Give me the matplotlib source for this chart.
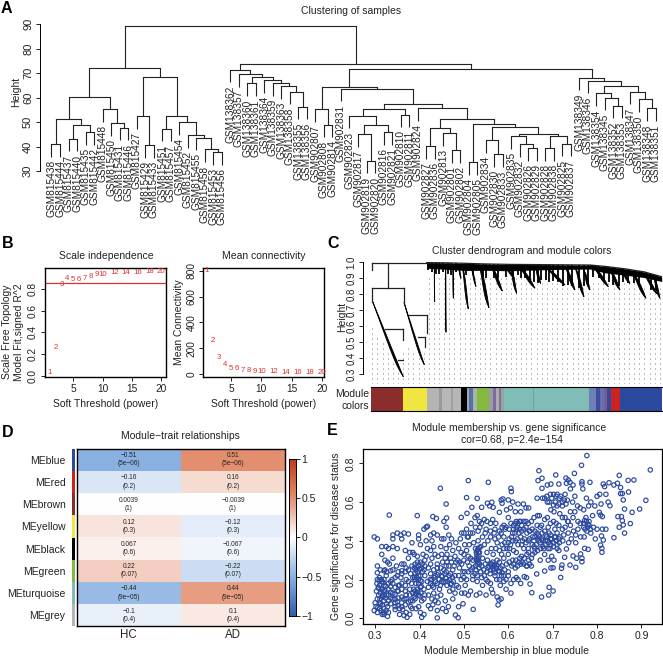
import numpy as np
import matplotlib
matplotlib.use("Agg")
import matplotlib.pyplot as plt
from matplotlib.colors import LinearSegmentedColormap

plt.rcParams['font.family'] = ['Liberation Sans', 'DejaVu Sans']

W, H = 663, 658

# ---------- A: sample tree, (merge height, left, right) ----------
left_a = (51.4, (41.0, "815438", "815444"), (48.9, (43.2, "815437", "815440"), (45.8, "815435", "815442")))
left_b = (55.2, "815448", (49.5, "815450", (47.7, "815431", "815446")))
left_c = (52.3, "815427", (40.6, "815429", "815433"))
left_d = (52.4, (47.3, "815451", "815457"), (50.1, "815454", (44.7, "815452", (43.7, "815455", (38.8, "815458", (37.8, "815453", "815456"))))))
left_tree = (72.2, (60.3, left_a, left_b), (68.6, left_c, left_d))
mid_tree = (71.5, "138362", (69.7, "138357", (68.5, (65.8, "138360", "138361"), (67.3, "138364", (66.0, "138359", (64.8, "138363", (62.4, "138358", (56.3, "138355", "138356"))))))))
tree_902a = (55.3, (52.6, "902823", (48.9, (45.2, "902817", (34.2, "902819", "902820")), (46.0, "902816", "902821"))), (53.1, "902810", "902811"))
tree_902b = (47.5, (40.3, "902827", "902836"), (45.6, "902813", (38.4, "902801", "902802")))
tree_902c = (47.8, (42.5, "902834", (36.8, "902830", "902833")), (45.0, (44.2, "902835", (40.9, "902832", (39.3, "902826", "902829"))), (44.2, (39.3, "902828", "902838"), (41.2, "902825", "902837"))))
tree_902 = (64.4, (55.4, "902807", (49.0, "902808", "902814")), (63.7, "902831", (57.5, tree_902a, (55.7, "902824", (51.1, tree_902b, (49.3, (33.7, "902804", "902805"), tree_902c))))))
tree_138 = (68.2, "138349", (66.9, "138346", (64.8, (61.7, "138354", (60.0, "138345", (56.7, "138352", "138353"))), (62.4, "138347", (59.3, "138350", (55.6, "138348", "138351"))))))
sample_tree = (89.2, left_tree, (73.7, mid_tree, (71.9, tree_902, tree_138)))

# ---------- B ----------
powers = [1, 2, 3, 4, 5, 6, 7, 8, 9, 10, 12, 14, 16, 18, 20]
fit_r2 = [0.03, 0.26, 0.84, 0.892, 0.886, 0.886, 0.895, 0.917, 0.935, 0.935, 0.948, 0.95, 0.95, 0.96, 0.957]
mean_k = [805, 258, 126, 72, 46, 39, 31, 25, 22, 20, 17, 14, 13, 11, 10]

# ---------- C: gene dendrogram, x in gene order, y in height ----------
module_widths = [97, 70, 38, 7, 28, 5, 25, 19, 6, 10, 12, 37, 12, 8, 10, 6, 9, 88, 3, 164, 20, 12, 14, 8, 12, 28, 124]
module_colors = ['#8B2D2D', '#EFE642', '#B4B4B4', '#9A9A9A', '#B8B8B8', '#A0A0A0', '#B6B6B6', '#000000', '#A6A6A6', '#4F72AE', '#A9B5A0',
                 '#85B83F', '#9C9CA8', '#7C6C9C', '#ABABB0', '#8A7090', '#8FA6A8', '#7FBDB6', '#6A9FBE', '#7FBDB6', '#6E80B6', '#3D4CA0',
                 '#6672AE', '#7A5C90', '#2F4A9E', '#CC2320', '#2B4A9E']
tree_links_u = [(2, 168), (2, 2), (51, 51), (4, 99), (4, 4), (99, 99), (115, 167), (167, 167), (140, 162), (162, 162), (42, 97), (97, 97), (82, 97)]
tree_links_h = [(0.993, 0.993), (0.993, 0.952), (0.993, 0.837), (0.837, 0.837), (0.837, 0.75), (0.837, 0.74), (0.671, 0.671), (0.671, 0.556), (0.535, 0.535), (0.535, 0.473), (0.583, 0.583), (0.583, 0.514), (0.39, 0.39)]
droop_u0 = [4, 99, 190, 224, 246, 262, 272, 297, 322, 354, 394, 417, 437, 492, 512, 582, 612, 637, 657, 712, 747, 777, 812, 847]
droop_h0 = [0.76, 0.75, 0.98, 0.98, 0.98, 0.985, 0.985, 0.985, 0.985, 0.985, 0.98, 0.975, 0.975, 0.975, 0.97, 0.965, 0.96, 0.95, 0.98, 0.96, 0.955, 0.94, 0.93, 0.91]
droop_u1 = [97, 160, 191, 225, 247, 270, 292, 315, 354, 394, 430, 437, 492, 509, 582, 612, 639, 657, 712, 747, 777, 825, 857, 867]
droop_h1 = [0.285, 0.36, 0.754, 0.562, 0.775, 0.90, 0.708, 0.848, 0.716, 0.82, 0.90, 0.806, 0.838, 0.868, 0.858, 0.827, 0.785, 0.827, 0.848, 0.827, 0.868, 0.775, 0.805, 0.775]
droop_wide = [9, 7, 1, 1, 1, 4, 7, 5, 11, 11, 8, 8, 13, 8, 14, 11, 10, 9, 13, 11, 10, 12, 11, 9]
tooth_u = [172, 182, 195, 205, 215, 232, 240, 255, 284, 305, 335, 345, 368, 380, 405, 425, 440, 450, 462, 478, 490, 500, 510, 525, 535, 545, 560, 575, 590, 603, 625, 640, 650, 667, 685, 700, 715, 725, 745, 755, 770, 790, 805, 840, 855]
tooth_h = [0.95, 0.94, 0.93, 0.93, 0.94, 0.93, 0.92, 0.94, 0.92, 0.92, 0.91, 0.90, 0.90, 0.90, 0.91, 0.90, 0.92, 0.90, 0.90, 0.89, 0.875, 0.87, 0.89, 0.89, 0.88, 0.885, 0.88, 0.85, 0.86, 0.85, 0.84, 0.85, 0.86, 0.91, 0.90, 0.88, 0.88, 0.86, 0.85, 0.88, 0.87, 0.87, 0.85, 0.83, 0.83]
top_band_u = [167, 220, 280, 340, 417, 540, 657, 700, 760, 820, 872]
top_band_h = [0.998, 0.997, 0.994, 0.99, 0.987, 0.985, 0.983, 0.975, 0.96, 0.94, 0.91]
band_depth = [0.035, 0.04, 0.045, 0.04, 0.04, 0.03, 0.025, 0.04, 0.04, 0.035, 0.03]
guide_u = [0, 90, 100, 150, 165, 171, 872]
guide_h = [0.62, 0.30, 0.52, 0.38, 0.52, 0.93, 0.86]

# ---------- D ----------
trait_names = ["HC", "AD"]
me_names = ["MEblue", "MEred", "MEbrown", "MEyellow", "MEblack", "MEgreen", "MEturquoise", "MEgrey"]
me_colors = ['#2B4A9E', '#CC2320', '#8B2D2D', '#EFE642', '#000000', '#85B83F', '#7FBDB6', '#B4B4B4']
hc_cor = [-0.51, -0.16, 0.0039, 0.12, 0.067, 0.22, -0.44, -0.1]
ad_cor = [0.51, 0.16, -0.0039, -0.12, -0.067, -0.22, 0.44, 0.1]
cor_pvalues = ["5e−06", "0.2", "1", "0.3", "0.6", "0.07", "9e−05", "0.4"]

# ---------- E: module membership, gene significance ----------
mm_gs_points = [
    (.298, .04), (.30, .08), (.298, .42), (.305, .41), (.305, .27), (.305, .235), (.305, .2), (.307, .16), (.303, .14), (.305, .1), (.302, .06), (.305, .03),
    (.31, .05), (.31, .08), (.312, .13), (.31, .17), (.312, .25), (.315, .37), (.315, .33), (.315, .19), (.315, .15), (.316, .11), (.316, .07), (.316, .02),
    (.32, .02), (.32, .05), (.32, .09), (.32, .12), (.32, .17), (.32, .2), (.32, .245), (.322, .25), (.325, .37), (.33, .36), (.322, .30), (.328, .29),
    (.332, .28), (.325, .22), (.33, .18), (.33, .15), (.325, .12), (.33, .09), (.328, .06), (.325, .04), (.33, .03), (.328, .01), (.335, .245), (.335, .19),
    (.335, .165), (.335, .135), (.335, .105), (.335, .075), (.332, .533), (.34, .43), (.34, .41), (.34, .37), (.34, .31), (.34, .25), (.345, .21), (.34, .18),
    (.345, .16), (.34, .13), (.345, .1), (.345, .06), (.345, .045), (.35, .44), (.35, .36), (.348, .27), (.352, .24), (.352, .17), (.352, .14), (.35, .085),
    (.352, .065), (.355, .02), (.355, .05), (.358, .43), (.36, .41), (.36, .28), (.36, .245), (.358, .21), (.36, .15), (.36, .11), (.36, .08), (.362, .045),
    (.365, .015), (.365, .44), (.368, .35), (.365, .28), (.368, .24), (.37, .2), (.368, .14), (.37, .1), (.368, .07), (.37, .03), (.375, .435), (.378, .34),
    (.375, .31), (.375, .25), (.378, .15), (.378, .12), (.38, .06), (.378, .02), (.372, .005), (.383, .39), (.385, .34), (.383, .27), (.385, .21), (.385, .13),
    (.385, .09), (.383, .05), (.388, .33), (.39, .28), (.392, .25), (.39, .2), (.39, .14), (.39, .1), (.392, .05), (.395, .53), (.398, .43), (.398, .41),
    (.395, .32), (.398, .27), (.395, .24), (.398, .18), (.395, .15), (.398, .12), (.398, .06), (.402, .38), (.402, .29), (.405, .26), (.402, .22), (.405, .19),
    (.403, .13), (.405, .09), (.402, .03), (.405, .005), (.41, .46), (.412, .30), (.41, .25), (.412, .22), (.41, .15), (.412, .12), (.41, .02), (.415, .47),
    (.418, .475), (.415, .4), (.418, .36), (.415, .32), (.42, .26), (.418, .19), (.42, .16), (.42, .065), (.425, .43), (.428, .4), (.425, .35), (.428, .31),
    (.425, .28), (.428, .2), (.425, .18), (.428, .1), (.425, .05), (.43, .525), (.432, .44), (.432, .37), (.435, .33), (.432, .25), (.435, .22), (.432, .13),
    (.435, .09), (.44, .002), (.44, .04), (.438, .516), (.44, .43), (.44, .28), (.442, .235), (.44, .18), (.445, .15), (.442, .08), (.447, .671), (.45, .41),
    (.448, .37), (.45, .33), (.448, .26), (.45, .22), (.45, .19), (.448, .12), (.452, .05), (.455, .5), (.455, .41), (.458, .31), (.455, .25), (.458, .19),
    (.458, .09), (.46, .59), (.461, .518), (.46, .47), (.46, .36), (.462, .33), (.46, .24), (.462, .17), (.46, .035), (.466, .43), (.468, .38), (.466, .27),
    (.468, .2), (.468, .14), (.465, .06), (.472, .41), (.475, .35), (.472, .29), (.475, .25), (.472, .18), (.475, .15), (.475, .1), (.481, .017), (.482, .39),
    (.48, .32), (.482, .29), (.484, .17), (.48, .13), (.487, .003), (.488, .36), (.486, .3), (.488, .22), (.488, .16), (.488, .06), (.494, .521), (.492, .41),
    (.495, .44), (.494, .34), (.495, .28), (.494, .2), (.495, .13), (.498, .075), (.5, .44), (.502, .38), (.5, .33), (.5, .3), (.502, .24), (.503, .17),
    (.502, .13), (.506, .623), (.507, .542), (.506, .46), (.508, .42), (.506, .35), (.508, .29), (.506, .2), (.51, .711), (.51, .42), (.512, .38), (.512, .27),
    (.51, .12), (.516, .49), (.515, .44), (.515, .31), (.516, .25), (.515, .14), (.518, .573), (.52, .44), (.522, .39), (.52, .3), (.52, .2), (.521, .046),
    (.525, .52), (.526, .47), (.526, .36), (.528, .34), (.526, .27), (.525, .23), (.528, .12), (.53, .619), (.53, .53), (.532, .45), (.532, .4), (.532, .31),
    (.533, .29), (.53, .19), (.535, .5), (.536, .47), (.538, .37), (.535, .34), (.538, .24), (.536, .13), (.54, .573), (.54, .49), (.542, .42), (.542, .31),
    (.54, .27), (.542, .17), (.546, .51), (.548, .44), (.546, .38), (.548, .28), (.546, .22), (.55, .12), (.553, .594), (.552, .5), (.555, .702), (.554, .4),
    (.552, .34), (.555, .26), (.554, .19), (.558, .58), (.56, .49), (.56, .42), (.562, .36), (.56, .25), (.562, .15), (.563, .599), (.566, .573), (.565, .51),
    (.568, .44), (.566, .33), (.568, .27), (.565, .13), (.572, .49), (.57, .41), (.572, .36), (.572, .26), (.574, .2), (.577, .069), (.579, .094), (.575, .11),
    (.58, .547), (.578, .42), (.58, .35), (.58, .29), (.58, .24), (.582, .17), (.584, .61), (.586, .594), (.586, .47), (.584, .44), (.586, .38), (.586, .27),
    (.585, .22), (.584, .1), (.588, .616), (.59, .48), (.59, .42), (.592, .39), (.59, .31), (.592, .25), (.59, .19), (.596, .56), (.595, .47), (.597, .36),
    (.596, .28), (.595, .2), (.595, .15), (.6, .611), (.6, .52), (.602, .46), (.602, .41), (.6, .33), (.602, .29), (.6, .22), (.606, .671), (.607, .654),
    (.605, .57), (.606, .49), (.607, .42), (.605, .38), (.608, .27), (.606, .18), (.606, .13), (.61, .6), (.612, .48), (.61, .44), (.612, .35), (.61, .3),
    (.612, .2), (.616, .55), (.618, .5), (.618, .46), (.616, .4), (.618, .34), (.616, .26), (.618, .21), (.622, .59), (.622, .49), (.624, .44), (.622, .38),
    (.624, .29), (.622, .2), (.628, .55), (.628, .5), (.63, .45), (.628, .42), (.63, .32), (.628, .28), (.628, .18), (.636, .215), (.634, .59), (.635, .46),
    (.636, .41), (.635, .36), (.635, .28), (.641, .21), (.64, .57), (.64, .5), (.642, .44), (.64, .39), (.642, .33), (.642, .27), (.649, .177), (.646, .57),
    (.648, .45), (.648, .41), (.646, .34), (.648, .28), (.653, .132), (.652, .5), (.654, .46), (.654, .38), (.652, .31), (.652, .27), (.658, .52), (.66, .45),
    (.66, .42), (.658, .37), (.66, .34), (.664, .229), (.667, .711), (.665, .62), (.666, .53), (.665, .48), (.666, .41), (.666, .35), (.669, .762), (.67, .53),
    (.672, .47), (.67, .42), (.672, .39), (.672, .3), (.676, .723), (.676, .671), (.677, .62), (.675, .48), (.676, .44), (.678, .37), (.675, .11), (.682, .62),
    (.682, .51), (.682, .45), (.684, .4), (.682, .33), (.682, .244), (.688, .688), (.688, .6), (.688, .52), (.69, .47), (.688, .4), (.69, .36), (.69, .3),
    (.692, .16), (.691, .12), (.696, .693), (.695, .64), (.696, .56), (.695, .49), (.696, .43), (.696, .38), (.698, .32), (.696, .26), (.701, .261), (.701, .141),
    (.702, .64), (.703, .55), (.702, .5), (.704, .42), (.702, .37), (.703, .3), (.707, .74), (.708, .63), (.71, .58), (.708, .49), (.71, .44), (.708, .4),
    (.71, .36), (.714, .693), (.715, .62), (.716, .54), (.714, .48), (.716, .42), (.714, .35), (.718, .211), (.72, .258), (.721, .275), (.722, .6), (.722, .52),
    (.722, .46), (.723, .4), (.727, .315), (.728, .64), (.728, .52), (.728, .47), (.73, .724), (.731, .697), (.731, .358), (.733, .61), (.734, .5), (.735, .714),
    (.735, .44), (.736, .39), (.739, .702), (.739, .275), (.74, .668), (.74, .55), (.74, .48), (.742, .41), (.746, .688), (.746, .322), (.745, .6), (.746, .52),
    (.747, .45), (.749, .748), (.75, .63), (.75, .55), (.752, .43), (.752, .39), (.752, .263), (.754, .31), (.756, .58), (.757, .5), (.757, .46), (.762, .57),
    (.762, .49), (.763, .332), (.763, .42), (.765, .79), (.766, .705), (.766, .693), (.766, .31), (.766, .292), (.768, .668), (.77, .56), (.77, .47), (.771, .42),
    (.772, .361), (.775, .52), (.777, .84), (.776, .62), (.777, .45), (.78, .356), (.781, .58), (.782, .48), (.784, .702), (.786, .6), (.786, .44), (.79, .53),
    (.792, .47), (.795, .58), (.796, .41), (.8, .63), (.8, .46), (.805, .547), (.806, .64), (.808, .533), (.808, .378), (.809, .59), (.81, .425), (.811, .361),
    (.811, .341), (.812, .525), (.812, .46), (.814, .693), (.814, .404), (.817, .68), (.82, .64), (.82, .46), (.825, .6), (.827, .7), (.829, .581), (.838, .688),
    (.838, .416), (.846, .697), (.847, .525), (.85, .738), (.85, .47), (.853, .675), (.853, .644), (.855, .525), (.857, .644), (.857, .504), (.859, .611), (.859, .482),
    (.862, .564), (.862, .44), (.87, .712), (.871, .652), (.875, .489), (.879, .547), (.883, .714), (.896, .564), (.91, .609), (.92, .766),
    (.31, .21), (.318, .14), (.326, .24), (.338, .2), (.345, .125), (.352, .105), (.36, .18), (.368, .17), (.375, .085), (.382, .18), (.388, .11), (.395, .29),
    (.402, .16), (.408, .33), (.412, .27), (.425, .23), (.432, .16), (.442, .32), (.452, .29), (.462, .29), (.47, .23), (.478, .27), (.49, .26), (.498, .24),
    (.51, .32), (.52, .26), (.528, .3), (.535, .28), (.545, .25), (.553, .3), (.565, .29), (.575, .3), (.585, .33), (.593, .46), (.603, .36), (.615, .44),
    (.625, .46), (.632, .4), (.645, .4), (.655, .42), (.665, .44), (.675, .41), (.685, .43), (.695, .41), (.705, .46), (.715, .39), (.725, .43), (.735, .5),
]
# denser patches read separately
mm_gs_dense = [
    (.304, .18), (.308, .12), (.311, .1), (.313, .04), (.318, .185), (.308, .155), (.312, .075), (.322, .145), (.306, .055), (.324, .165), (.314, .2), (.319, .03), (.326, .075), (.317, .115), (.309, .195), (.323, .105),
    (.388, .26), (.39, .235), (.392, .18), (.394, .21), (.396, .135), (.398, .22), (.4, .255), (.402, .195), (.404, .165), (.406, .28), (.387, .15), (.389, .21), (.391, .125), (.393, .265), (.397, .2), (.401, .115), (.407, .24),
    (.424, .2), (.429, .17), (.433, .21), (.436, .19), (.44, .225), (.444, .2), (.447, .17), (.451, .215), (.454, .185), (.457, .23), (.46, .205), (.463, .19), (.467, .22), (.47, .175), (.474, .21), (.476, .19),
    (.528, .31), (.53, .35), (.529, .33), (.532, .36), (.533, .34), (.534, .32), (.531, .3), (.535, .365), (.53, .28), (.527, .25), (.534, .26),
    (.552, .24), (.556, .27), (.559, .23), (.563, .28), (.567, .25), (.57, .235), (.574, .27), (.578, .245), (.582, .26), (.586, .235), (.56, .28), (.569, .275),
    (.658, .4), (.663, .38), (.668, .43), (.673, .36), (.678, .4), (.683, .38), (.686, .42), (.691, .39), (.694, .36), (.698, .41), (.702, .39), (.706, .42), (.71, .38), (.714, .41), (.66, .36), (.669, .4), (.68, .36), (.692, .44),
    (.687, .63), (.692, .6), (.698, .62), (.702, .585), (.706, .6), (.71, .64), (.714, .59), (.718, .63), (.722, .58), (.726, .61), (.73, .59),
    (.77, .49), (.773, .46), (.776, .5), (.779, .47), (.782, .5), (.785, .46), (.772, .505), (.78, .485),
    (.612, .46), (.616, .49), (.62, .47), (.625, .5), (.63, .48), (.635, .5), (.64, .47), (.645, .49), (.648, .45),
    (.612, .28), (.617, .3), (.621, .27), (.626, .31), (.631, .29), (.636, .31), (.641, .27), (.646, .3),
    (.55, .46), (.56, .45), (.57, .46), (.575, .39), (.58, .45), (.59, .36), (.6, .39), (.61, .4), (.62, .41), (.63, .38), (.645, .36), (.655, .33),
    (.44, .26), (.46, .27), (.47, .31), (.48, .22), (.49, .29), (.5, .21), (.51, .24), (.52, .22), (.53, .22), (.54, .21), (.55, .2), (.56, .18), (.57, .22), (.58, .2), (.59, .22), (.6, .24),
    (.34, .1), (.35, .14), (.36, .06), (.37, .12), (.38, .09), (.33, .12), (.345, .08), (.355, .17), (.365, .1), (.375, .19), (.35, .22), (.36, .23), (.37, .26), (.38, .23), (.41, .1), (.42, .12), (.43, .07), (.44, .11),
]

colormap = LinearSegmentedColormap.from_list("bwr_wgcna", ['#2E5FAC', '#8BB2E2', '#FFFFFF', '#E39071', '#C23A1E'])


def px_axes(x0, y0, x1, y1):
    return fig.add_axes([x0 / W, 1 - y1 / H, (x1 - x0) / W, (y1 - y0) / H])


def px_text(x, y, s, **kw):
    return fig.text(x / W, 1 - y / H, s, **kw)


def draw_node(ax, node, order):
    # returns x of the node, leaves are numbered left to right
    if isinstance(node, str):
        x = len(order)
        order.append(node)
        return x, None
    height, left, right = node
    xl, hl = draw_node(ax, left, order)
    xr, hr = draw_node(ax, right, order)
    for x_child, h_child, child in ((xl, hl, left), (xr, hr, right)):
        if h_child is None:
            h_child = height - 5.2
            ax.text(x_child, h_child - 1.3, "GSM" + child, rotation=90, ha='center', va='top', fontsize=7.3, color='#222222', clip_on=False)
        ax.plot([x_child, x_child], [height, h_child], color='#222222', lw=0.8, solid_capstyle='butt')
    ax.plot([xl, xr], [height, height], color='#222222', lw=0.8, solid_capstyle='projecting')
    return (xl + xr) / 2, height


def r_axis(ax, bounds):
    for side in ('top', 'right', 'bottom'):
        ax.spines[side].set_visible(False)
    ax.spines['left'].set_bounds(*bounds)
    ax.spines['left'].set_linewidth(0.7)
    ax.set_xticks([])


def rotate_y_ticks(ax):
    for label in ax.get_yticklabels():
        label.set_rotation(90)
        label.set_va('center')


fig = plt.figure(figsize=(W / 100, H / 100), dpi=100)

# panel letters
for letter, x, y in (("A", 1, 13), ("B", 2, 248), ("C", 327, 248), ("D", 2, 437), ("E", 327, 435)):
    px_text(x, y, letter, fontsize=11.5, fontweight='bold', ha='left', va='baseline')

# A
ax = px_axes(40, 24, 660, 225)
ax.set_xlim(-1.35, 71.47)
ax.set_ylim(30 - 54 / 2.445, 90 + 0.3 / 2.445)
order = []
draw_node(ax, sample_tree, order)
r_axis(ax, (30, 90))
ax.set_yticks(range(30, 100, 10))
ax.tick_params(axis='y', labelsize=8, length=3, width=0.7, pad=2, colors='#222222')
rotate_y_ticks(ax)
ax.patch.set_alpha(0)
px_text(16, 92, "Height", rotation=90, ha='center', va='center', fontsize=7.5, color='#222222')
px_text(351, 11, "Clustering of samples", ha='center', va='center', fontsize=7.5, color='#222222')

# B left
ax = px_axes(45, 267.7, 166, 377)
ax.set_xlim(0.18, 20.8)
ax.set_ylim(-0.012, 0.994)
ax.axhline(0.85, color='#E03030', lw=0.9)
for p, v in zip(powers, fit_r2):
    ax.text(p, v, str(p), color='#E03030', fontsize=5.6, ha='center', va='center')
ax.set_xticks([5, 10, 15, 20])
ax.set_yticks([0, 0.2, 0.4, 0.6, 0.8], labels=["0.0", "0.2", "0.4", "0.6", "0.8"])
ax.tick_params(labelsize=7.3, length=3, width=0.7, pad=2, colors='#222222')
rotate_y_ticks(ax)
for s in ax.spines.values():
    s.set_linewidth(1.0)
px_text(106, 256, "Scale independence", ha='center', va='center', fontsize=7.5, color='#222222')
px_text(106, 404, "Soft Threshold (power)", ha='center', va='center', fontsize=7.5, color='#222222')
px_text(7, 332, "Scale Free Topology", rotation=90, ha='center', va='center', fontsize=7.5, color='#222222')
px_text(19, 332, "Model Fit,signed R^2", rotation=90, ha='center', va='center', fontsize=7.5, color='#222222')

# B right
ax = px_axes(203.3, 267.7, 324, 377)
ax.set_xlim(0.42, 20.37)
ax.set_ylim(-23, 824)
for p, v in zip(powers, mean_k):
    ax.text(p, v, str(p), color='#E03030', fontsize=5.6, ha='center', va='center')
ax.set_xticks([5, 10, 15, 20])
ax.set_yticks([0, 200, 400, 600, 800])
ax.tick_params(labelsize=7.3, length=3, width=0.7, pad=2, colors='#222222')
rotate_y_ticks(ax)
for s in ax.spines.values():
    s.set_linewidth(1.0)
px_text(264, 256, "Mean connectivity", ha='center', va='center', fontsize=7.5, color='#222222')
px_text(264, 404, "Soft Threshold (power)", ha='center', va='center', fontsize=7.5, color='#222222')
px_text(179, 322, "Mean Connectivity", rotation=90, ha='center', va='center', fontsize=7.5, color='#222222')

# C dendrogram
ax = px_axes(363, 260, 662, 384)
ax.set_xlim(-24, 873)
ax.set_ylim(1 - (384 - 262.3) / 160, 1 + 2.3 / 160)
guide_x = np.arange(4, 872, 15.4)
guide_top = np.interp(guide_x, guide_u, guide_h)
ax.vlines(guide_x, ax.get_ylim()[0], guide_top, color='#777777', lw=0.7, linestyles=[(0, (1, 4.14))], zorder=1)
for u, h in zip(tree_links_u, tree_links_h):
    ax.plot(u, h, color='#222222', lw=0.9, zorder=3)
ax.plot(top_band_u, top_band_h, color='#222222', lw=0.9, zorder=3)
ax.fill_between(top_band_u, top_band_h, np.array(top_band_h) - np.array(band_depth), color='black', lw=0, zorder=2)
ax.vlines(tooth_u, tooth_h, np.interp(tooth_u, top_band_u, top_band_h), color='black', lw=1.3, zorder=2)
t = np.linspace(0, 1, 40)
for u0, h0, u1, h1, wide in zip(droop_u0, droop_h0, droop_u1, droop_h1, droop_wide):
    steep = 1.0 if h1 < 0.5 else 1.7
    xs = u0 + (u1 - u0) * t
    hs = h0 - (h0 - h1) * t ** steep
    spread = wide * t ** 0.9 * (1 - t ** 7)
    ax.fill(np.r_[xs, (xs - spread)[::-1]], np.r_[hs, hs[::-1]], color='black', lw=0.6, zorder=2)
for side in ('top', 'right', 'bottom'):
    ax.spines[side].set_visible(False)
ax.spines['left'].set_bounds(0.3, 1.0)
ax.spines['left'].set_linewidth(0.7)
ax.set_xticks([])
ax.set_yticks([0.3, 0.4, 0.5, 0.6, 0.7, 0.8, 0.9, 1.0], labels=["0.3", "0.4", "0.5", "0.6", "0.7", "0.8", "0.9", "1.0"])
ax.tick_params(axis='y', labelsize=7, length=3, width=0.7, pad=1.5, colors='#222222')
rotate_y_ticks(ax)
ax.patch.set_alpha(0)
px_text(342, 317, "Height", rotation=90, ha='center', va='center', fontsize=7.5, color='#222222')
px_text(522, 251, "Cluster dendrogram and module colors", ha='center', va='center', fontsize=7.5, color='#222222')

# C module bar
ax = px_axes(371, 387.3, 661.7, 410.7)
ax.barh(0, module_widths, left=np.cumsum([0] + module_widths[:-1]), height=1, color=module_colors, lw=0)
ax.set_xlim(0, sum(module_widths))
ax.set_ylim(-0.5, 0.5)
ax.set_xticks([])
ax.set_yticks([])
for side in ('left', 'right'):
    ax.spines[side].set_visible(False)
px_text(369, 394, "Module", ha='right', va='center', fontsize=7.5, color='#222222')
px_text(369, 406, "colors", ha='right', va='center', fontsize=7.5, color='#222222')

# D heatmap
ax = px_axes(76.7, 448.7, 285, 626.3)
cor_matrix = np.array([hc_cor, ad_cor]).T
ax.pcolormesh(cor_matrix, cmap=colormap, vmin=-1, vmax=1)
ax.set_ylim(len(me_names), 0)
for i, p in enumerate(cor_pvalues):
    for j in range(2):
        ax.text(j + 0.5, i + 0.5, f"{cor_matrix[i, j]:g}".replace("-", "−") + f"\n({p})", ha='center', va='center',
                fontsize=4.7, linespacing=1.25, color='#222222')
ax.set_xticks([0.5, 1.5], labels=trait_names)
ax.set_yticks(np.arange(8) + 0.5, labels=me_names)
ax.tick_params(axis='x', length=0, labelsize=8.3, pad=2, colors='#222222')
ax.tick_params(axis='y', length=0, labelsize=7.5, pad=8, colors='#222222')
for s in ax.spines.values():
    s.set_linewidth(1.0)
px_text(180, 436, "Module−trait relationships", ha='center', va='center', fontsize=7.5, color='#222222')

# D module strip
ax = px_axes(71.7, 448.7, 75.3, 626.3)
ax.barh(np.arange(8), 1, height=1, color=me_colors, lw=0)
ax.set_ylim(7.5, -0.5)
ax.set_xlim(0, 1)
ax.axis('off')

# D colour key
ax = px_axes(289.3, 459, 296, 615.7)
gradient = np.linspace(-1, 1, 200).reshape(-1, 1)
ax.imshow(gradient, cmap=colormap, aspect='auto', origin='lower', extent=[0, 1, -1, 1], vmin=-1, vmax=1)
ax.set_xticks([])
ax.yaxis.tick_right()
ax.set_yticks([-1, -0.5, 0, 0.5, 1], labels=["−1", "−0.5", "0", "0.5", "1"])
ax.tick_params(axis='y', labelsize=7.5, length=3, width=0.7, pad=1, colors='#222222')
for s in ax.spines.values():
    s.set_linewidth(0.7)

# E
ax = px_axes(362.7, 449, 661.7, 624.3)
points = np.array(mm_gs_points + mm_gs_dense)
ax.scatter(points[:, 0], points[:, 1], s=10, facecolors='none', edgecolors='#2C4A9E', linewidths=0.85)
ax.set_xlim(0.272, 0.9457)
ax.set_ylim(-0.031, 0.874)
ax.set_xticks([0.3, 0.4, 0.5, 0.6, 0.7, 0.8, 0.9])
ax.set_yticks([0, 0.2, 0.4, 0.6, 0.8], labels=["0.0", "0.2", "0.4", "0.6", "0.8"])
ax.tick_params(labelsize=7.5, length=3, width=0.7, pad=2, colors='#222222')
rotate_y_ticks(ax)
for s in ax.spines.values():
    s.set_linewidth(0.9)
px_text(509, 428, "Module membership vs. gene significance", ha='center', va='center', fontsize=7.5, color='#222222')
px_text(512, 440, "cor=0.68, p=2.4e−154", ha='center', va='center', fontsize=7.5, color='#222222')
px_text(507, 651, "Module Membership in blue module", ha='center', va='center', fontsize=7.5, color='#222222')
px_text(336, 536, "Gene significance for disease status", rotation=90, ha='center', va='center', fontsize=7.5, color='#222222')

fig.savefig('out.png', dpi=100)
